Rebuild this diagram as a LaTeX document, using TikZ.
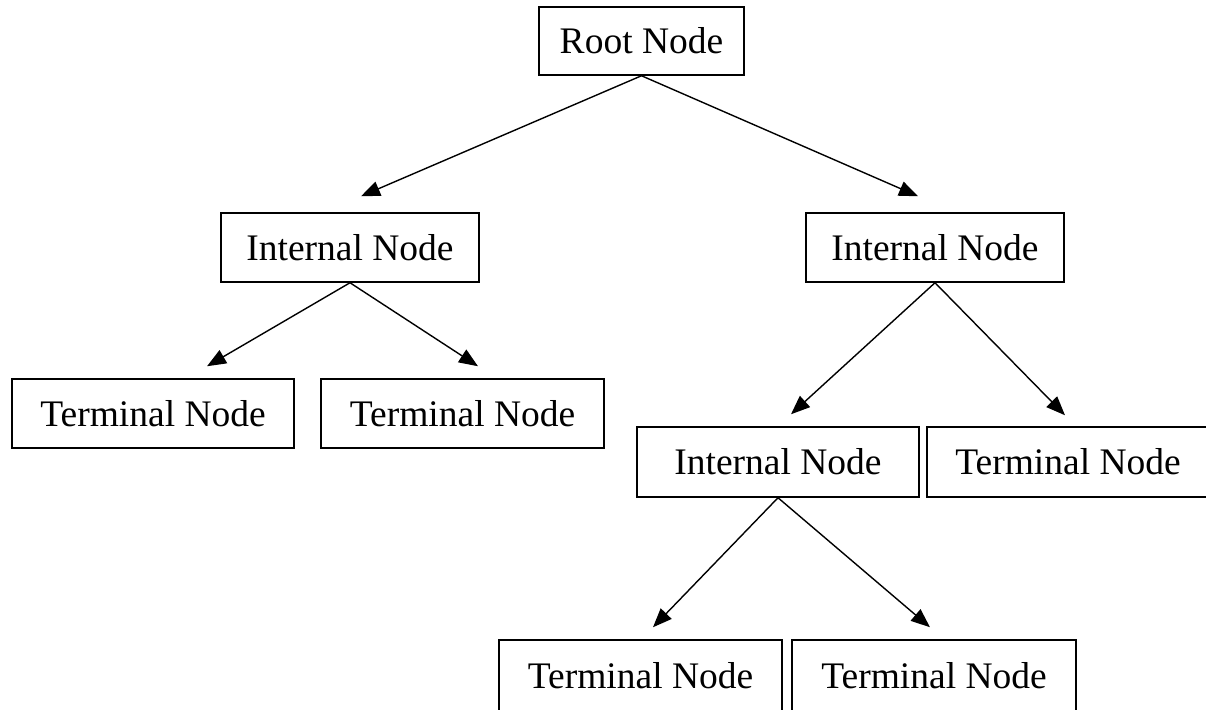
\documentclass[tikz,border=0pt]{standalone}
\usepackage{fontspec}
\setmainfont{Liberation Serif}
\usetikzlibrary{arrows.meta,calc}
\begin{document}
\begin{tikzpicture}[x=1pt,y=-1pt,
  box/.style={draw=black,line width=1.5pt,rectangle,inner sep=0pt,font=\fontsize{37.5}{40}\selectfont},
  arr/.style={line width=1.4pt,-{Triangle[length=19pt,width=15pt]}}]
\clip (0,0) rectangle (1206,709);
\useasboundingbox (0,0) rectangle (1206,709);
\fill[white] (0,0) rectangle (1206,709);
% nodes
\node[box,minimum width=205pt,minimum height=68pt] (root) at (641.5,41) {Root Node};
\node[box,minimum width=258pt,minimum height=69pt] (intL) at (350,247.5) {Internal Node};
\node[box,minimum width=258pt,minimum height=69pt] (intR) at (935,247.5) {Internal Node};
\node[box,minimum width=282pt,minimum height=69pt] (tL1) at (153,413.5) {Terminal Node};
\node[box,minimum width=283pt,minimum height=69pt] (tL2) at (462.5,413.5) {Terminal Node};
\node[box,minimum width=282pt,minimum height=70pt] (intRR) at (778,462) {Internal Node};
\node[box,minimum width=282pt,minimum height=70pt] (tRR) at (1068,462) {Terminal Node};
\node[box,minimum width=283pt,minimum height=72pt] (tB1) at (640.5,676) {Terminal Node};
\node[box,minimum width=284pt,minimum height=72pt] (tB2) at (934,676) {Terminal Node};
% arrow tips
\coordinate (pIntL) at ($(intL.north)+(11,-16)$);
\coordinate (pIntR) at ($(intR.north)+(-17,-16)$);
\coordinate (pTL1) at ($(tL1.north)+(54,-12)$);
\coordinate (pTL2) at ($(tL2.north)+(15.5,-12)$);
\coordinate (pIntRR) at ($(intRR.north)+(13,-12)$);
\coordinate (pTRR) at ($(tRR.north)+(-3,-11)$);
\coordinate (pTB1) at ($(tB1.north)+(12.5,-12)$);
\coordinate (pTB2) at ($(tB2.north)+(-4,-12)$);
% connectors
\draw[arr] (root.south) -- (pIntL);
\draw[arr] (root.south) -- (pIntR);
\draw[arr] (intL.south) -- (pTL1);
\draw[arr] (intL.south) -- (pTL2);
\draw[arr] (intR.south) -- (pIntRR);
\draw[arr] (intR.south) -- (pTRR);
\draw[arr] (intRR.south) -- (pTB1);
\draw[arr] (intRR.south) -- (pTB2);
\end{tikzpicture}
\end{document}
